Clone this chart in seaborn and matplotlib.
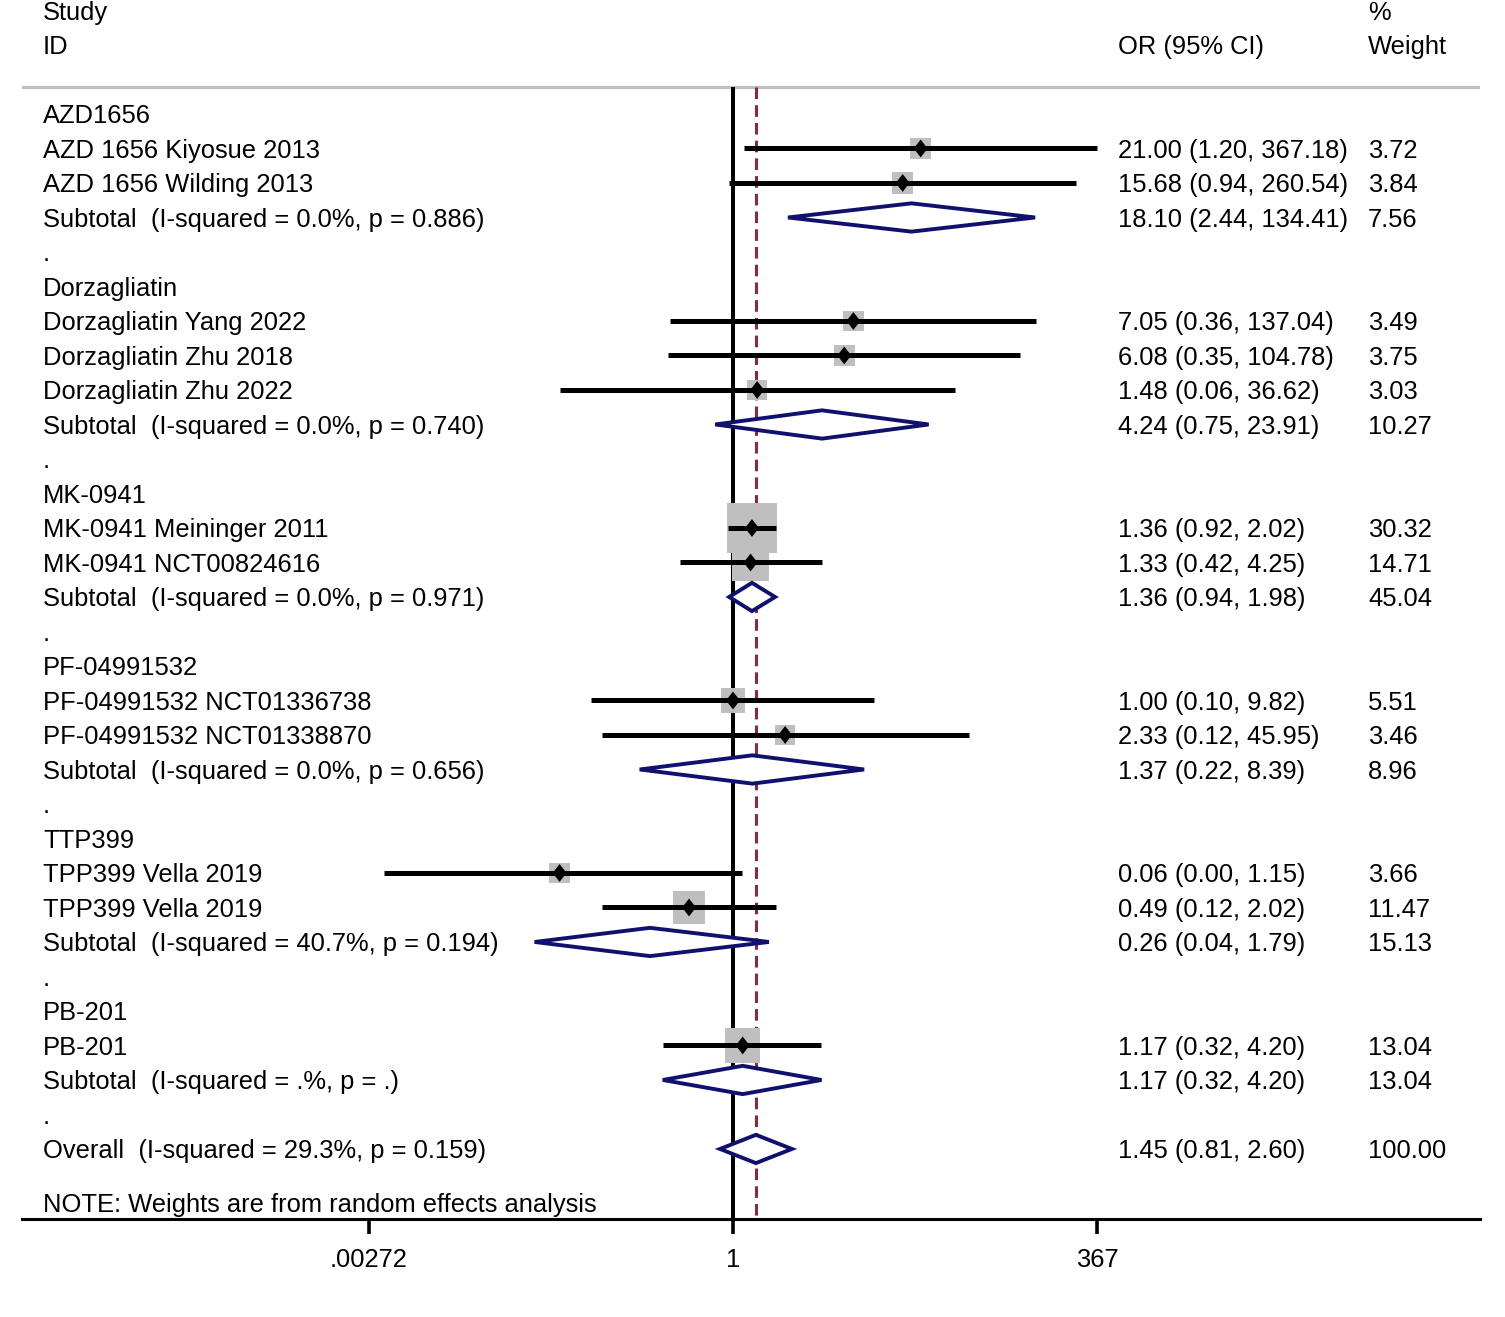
import numpy as np
import pandas as pd
import matplotlib
matplotlib.use("Agg")
import matplotlib.pyplot as plt
import matplotlib.transforms as mtransforms
from matplotlib.patches import Polygon
from matplotlib.path import Path
from matplotlib.ticker import FixedLocator, FixedFormatter, NullLocator
import seaborn as sns

# ---------------- data ----------------
groups = ["AZD1656", "Dorzagliatin", "MK-0941", "PF-04991532", "TTP399", "PB-201"]
group_sizes = [2, 3, 2, 2, 2, 1]

studies = ["AZD 1656 Kiyosue 2013", "AZD 1656 Wilding 2013",
           "Dorzagliatin Yang 2022", "Dorzagliatin Zhu 2018", "Dorzagliatin Zhu 2022",
           "MK-0941 Meininger 2011", "MK-0941 NCT00824616",
           "PF-04991532 NCT01336738", "PF-04991532 NCT01338870",
           "TPP399 Vella 2019", "TPP399 Vella 2019",
           "PB-201"]
study_or = [21.00, 15.68, 7.05, 6.08, 1.48, 1.36, 1.33, 1.00, 2.33, 0.06, 0.49, 1.17]
study_lo = [1.20, 0.94, 0.36, 0.35, 0.06, 0.92, 0.42, 0.10, 0.12, 0.0035, 0.12, 0.32]
study_hi = [367.18, 260.54, 137.04, 104.78, 36.62, 2.02, 4.25, 9.82, 45.95, 1.15, 2.02, 4.20]
study_w = [3.72, 3.84, 3.49, 3.75, 3.03, 30.32, 14.71, 5.51, 3.46, 3.66, 11.47, 13.04]

sub_or = [18.10, 4.24, 1.36, 1.37, 0.26, 1.17]
sub_lo = [2.44, 0.75, 0.94, 0.22, 0.04, 0.32]
sub_hi = [134.41, 23.91, 1.98, 8.39, 1.79, 4.20]
sub_w = [7.56, 10.27, 45.04, 8.96, 15.13, 13.04]
sub_i2 = ["0.0%", "0.0%", "0.0%", "0.0%", "40.7%", ".%"]
sub_p = ["0.886", "0.740", "0.971", "0.656", "0.194", "."]

overall_or, overall_lo, overall_hi, overall_w = 1.45, 0.81, 2.60, 100.00
overall_i2, overall_p = "29.3%", "0.159"

tick_vals = [0.00272, 1, 367]
tick_labels = [".00272", "1", "367"]

note = "NOTE: Weights are from random effects analysis"

# ---------------- style ----------------
sns.set_theme(style="white")
plt.rcParams['font.family'] = ['Liberation Sans', 'DejaVu Sans']
FS = 18.4
GRAY = "#bfbfbf"
NAVY = "#10106e"
RED = "#8b2a3a"

W, H = 1505, 1317
fig = plt.figure(figsize=(W / 100, H / 100), dpi=100)
ax = fig.add_axes([22 / W, (H - 1219) / H, 1458 / W, 1219 / H])

px_per = 364 / np.log(367)
xmin = np.exp((22 - 733) / px_per)
xmax = np.exp((1480 - 733) / px_per)
ax.set_xscale('log')
ax.set_xlim(xmin, xmax)
ax.set_ylim(32.03, -3.304)

trans = mtransforms.blended_transform_factory(ax.transAxes, ax.transData)
X_LEFT = (43 - 22) / 1458
X_OR = (1118 - 22) / 1458
X_W = (1368 - 22) / 1458

def txt(x, y, s):
    ax.text(x, y, s, transform=trans, fontsize=FS, ha='left', va='center_baseline', color='black')

# headers
txt(X_LEFT, -3.0, "Study")
txt(X_LEFT, -2.0, "ID")
txt(X_OR, -2.0, "OR (95% CI)")
txt(X_W, -3.0, "%")
txt(X_W, -2.0, "Weight")
ax.axhline(-0.78, color=GRAY, lw=2.3, zorder=1)

# build rows
rows = []
row = 0
sub_rows = []
for g, n in enumerate(group_sizes):
    txt(X_LEFT, row, groups[g])
    row += 1
    for _ in range(n):
        rows.append(row)
        row += 1
    sub_rows.append(row)
    row += 1
    txt(X_LEFT, row, ".")
    row += 1
overall_row = row
note_row = overall_row + 1.54

df = pd.DataFrame({"study": studies, "or": study_or, "lo": study_lo, "hi": study_hi,
                   "w": study_w, "row": rows})

# reference lines
ax.vlines(1, -0.78, 32.03, color='black', lw=2.9, zorder=2)
ax.vlines(overall_or, -0.78, 32.03, color=RED, lw=2.2, linestyles=(0, (3.8, 2.0)), zorder=2)

# boxes: side grows with sqrt(weight)
box_sizes = {w: ((8.11 * np.sqrt(w) + 5.35) / (100 / 72)) ** 2 for w in study_w}
sns.scatterplot(data=df, x="or", y="row", size="w", sizes=box_sizes,
                marker='s', color=GRAY, edgecolor='none', linewidth=0,
                legend=False, ax=ax, zorder=3)
# CIs
ax.hlines(df["row"], df["lo"], df["hi"], color='black', lw=3.6, zorder=4)
# point estimates (slightly tall diamond)
dmark = Path([(0, 1), (0.78, 0), (0, -1), (-0.78, 0), (0, 1)],
             [Path.MOVETO, Path.LINETO, Path.LINETO, Path.LINETO, Path.CLOSEPOLY])
sns.scatterplot(data=df, x="or", y="row", marker=dmark, s=165, color='black', edgecolor='none',
                linewidth=0, legend=False, ax=ax, zorder=5)

for i, r in enumerate(rows):
    txt(X_LEFT, r, studies[i])
    txt(X_OR, r, f"{study_or[i]:.2f} ({study_lo[i]:.2f}, {study_hi[i]:.2f})")
    txt(X_W, r, f"{study_w[i]:.2f}")

def diamond(c, lo, hi, y):
    poly = Polygon([(lo, y), (c, y - 0.41), (hi, y), (c, y + 0.41)], closed=True,
                   facecolor='white', edgecolor=NAVY, lw=2.8, joinstyle='miter', zorder=6)
    ax.add_patch(poly)

for g, r in enumerate(sub_rows):
    diamond(sub_or[g], sub_lo[g], sub_hi[g], r)
    txt(X_LEFT, r, f"Subtotal  (I-squared = {sub_i2[g]}, p = {sub_p[g]})")
    txt(X_OR, r, f"{sub_or[g]:.2f} ({sub_lo[g]:.2f}, {sub_hi[g]:.2f})")
    txt(X_W, r, f"{sub_w[g]:.2f}")

diamond(overall_or, overall_lo, overall_hi, overall_row)
txt(X_LEFT, overall_row, f"Overall  (I-squared = {overall_i2}, p = {overall_p})")
txt(X_OR, overall_row, f"{overall_or:.2f} ({overall_lo:.2f}, {overall_hi:.2f})")
txt(X_W, overall_row, f"{overall_w:.2f}")
txt(X_LEFT, note_row, note)

# axes styling
for s in ["top", "left", "right"]:
    ax.spines[s].set_visible(False)
ax.spines["bottom"].set_color('black')
ax.spines["bottom"].set_linewidth(2.2)
ax.xaxis.set_major_locator(FixedLocator(tick_vals))
ax.xaxis.set_major_formatter(FixedFormatter(tick_labels))
ax.xaxis.set_minor_locator(NullLocator())
ax.set_yticks([])
ax.tick_params(axis='x', which='major', direction='out', length=11, width=2.6, color='black',
               labelsize=FS, labelcolor='black', pad=10, bottom=True)
ax.set_xlabel("")
ax.set_ylabel("")

fig.savefig("out.png", dpi=100, facecolor='white')
